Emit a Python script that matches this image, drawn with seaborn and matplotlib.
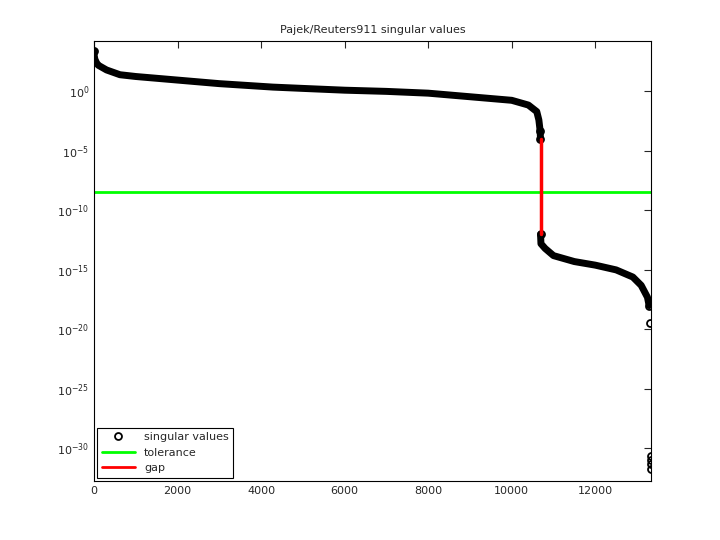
import numpy as np
import matplotlib
matplotlib.use("Agg")
import matplotlib.pyplot as plt
import seaborn as sns
from matplotlib.lines import Line2D

# Singular values (index, log10 value)
upper_idx = [0, 5, 20, 60, 100, 300, 620, 1000, 2000, 3000, 4280, 5000, 6000, 7000, 8000, 9000, 9500, 10000, 10400, 10600, 10650, 10680, 10689]
upper_log = [3.4, 3.0, 2.7, 2.4, 2.2, 1.8, 1.4, 1.25, 0.95, 0.65, 0.36, 0.25, 0.1, 0.0, -0.15, -0.45, -0.6, -0.75, -1.15, -1.7, -2.4, -3.3, -4.0]
lower_idx = [10690, 10700, 10800, 11000, 11500, 12000, 12500, 12900, 13100, 13250, 13290]
lower_log = [-12.0, -12.8, -13.2, -13.8, -14.3, -14.6, -15.0, -15.6, -16.3, -17.3, -18.0]
tail_idx = [13300, 13329, 13330, 13331, 13332]
tail_log = [-19.5, -30.6, -31.0, -31.3, -31.7]
tolerance = 3.5e-9
gap_x = 10690
gap_log = [-4.0, -12.0]
n_total = 13332

sns.set_style("white")
plt.rcParams['font.family'] = ['DejaVu Sans']
fig = plt.figure(figsize=(7.2, 5.4), dpi=100)
ax = fig.add_axes([0.1306, 0.109, 0.904 - 0.1306, 0.924 - 0.109])

up_v = 10.0 ** np.array(upper_log)
lo_v = 10.0 ** np.array(lower_log)
ta_v = 10.0 ** np.array(tail_log)

sns.lineplot(x=upper_idx, y=up_v, ax=ax, color='black', lw=5, sort=False, estimator=None)
sns.lineplot(x=lower_idx, y=lo_v, ax=ax, color='black', lw=5, sort=False, estimator=None)
ends_x = [upper_idx[0], upper_idx[-2], upper_idx[-1], lower_idx[0], lower_idx[-1]] + tail_idx
ends_y = [up_v[0], up_v[-2], up_v[-1], lo_v[0], lo_v[-1]] + list(ta_v)
ax.plot(ends_x, ends_y, 'o', mfc='none', mec='black', ms=5, mew=1.3, label='singular values')
ax.axhline(tolerance, color='#00ff00', lw=2, label='tolerance')
ax.plot([gap_x, gap_x], 10.0 ** np.array(gap_log), color='red', lw=2.5, label='gap')

ax.set_yscale('log')
ax.set_xlim(0, n_total)
ax.set_ylim(10 ** -32.75, 10 ** 4.23)
ax.set_yticks([10.0 ** e for e in range(-30, 1, 5)])
ax.yaxis.set_minor_locator(matplotlib.ticker.NullLocator())
ax.set_xticks(range(0, 13000, 2000))
ax.tick_params(direction='in', top=True, right=True, labelsize=8, length=5, width=0.8)
for s in ax.spines.values():
    s.set_color('black'); s.set_linewidth(0.8)
ax.set_title('Pajek/Reuters911 singular values', fontsize=8)

handles = [Line2D([], [], ls='none', marker='o', mfc='none', mec='black', ms=5, mew=1.3),
           Line2D([], [], color='#00ff00', lw=2), Line2D([], [], color='red', lw=2)]
leg = ax.legend(handles, ['singular values', 'tolerance', 'gap'], loc='lower left', fontsize=8,
                fancybox=False, edgecolor='black', framealpha=1, borderaxespad=0.3, handlelength=3)
leg.get_frame().set_linewidth(0.8)
fig.savefig('out.png', dpi=100)
